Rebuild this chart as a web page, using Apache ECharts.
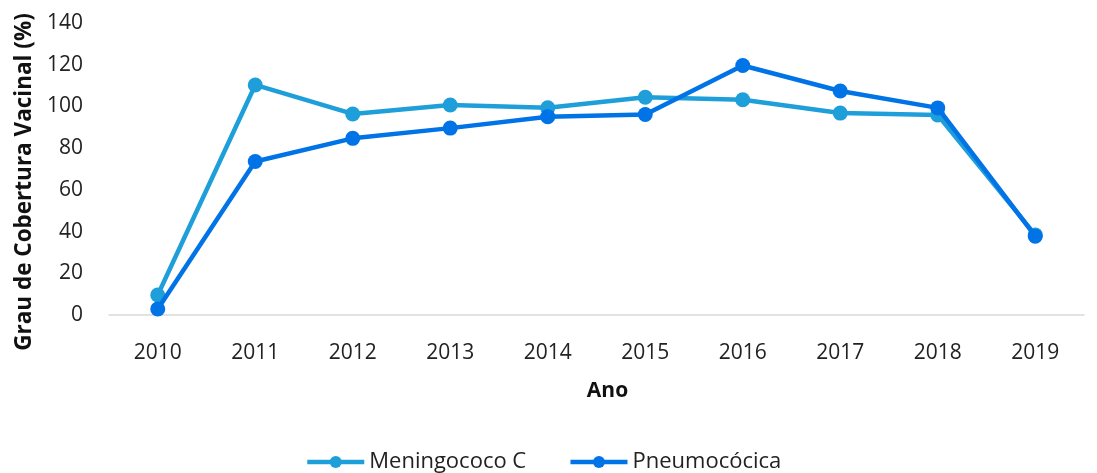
<!DOCTYPE html>
<html>
<head>
<meta charset="utf-8">
<script src="https://cdn.jsdelivr.net/npm/echarts@6/dist/echarts.min.js"></script>
<style>
  html, body { margin: 0; padding: 0; background: #fff; }
  #main { width: 1097px; height: 473px; }
</style>
</head>
<body>
<div id="main"></div>
<script>
var anos = ['2010', '2011', '2012', '2013', '2014', '2015', '2016', '2017', '2018', '2019']
var meningococo = [9.6, 110.3, 96.4, 100.7, 99.4, 104.4, 103.2, 96.8, 95.9, 38.4]
var pneumococica = [2.9, 73.6, 84.7, 89.6, 95.1, 96.1, 119.6, 107.4, 99.3, 37.8]

const myChart = echarts.init(document.getElementById('main'))
const fonte = "'Open Sans', 'Noto Sans', sans-serif"

const option = {
  animation: false,
  textStyle: { fontFamily: fonte },
  grid: { left: 109, right: 13, top: 23, bottom: 158 },
  legend: {
    top: 451,
    left: 305,
    padding: 0,
    itemWidth: 57,
    itemHeight: 15,
    itemGap: 42,
    itemTextGap: 4,
    lineStyle: { width: 4.5 },
    textStyle: { fontSize: 22, color: '#222', fontFamily: fonte },
    data: ['Meningococo C', 'Pneumocócica']
  },
  xAxis: {
    type: 'category',
    data: anos,
    name: 'Ano',
    nameLocation: 'middle',
    nameGap: 66,
    nameTextStyle: { fontSize: 21, fontWeight: 'bold', color: '#111', padding: [0, 0, 0, 22] },
    axisLine: { lineStyle: { color: '#d9d9d9', width: 1.5 } },
    axisTick: { show: false },
    axisLabel: { fontSize: 21, color: '#222', margin: 28 }
  },
  yAxis: {
    type: 'value',
    min: 0,
    max: 140,
    interval: 20,
    name: 'Grau de Cobertura Vacinal (%)',
    nameLocation: 'middle',
    nameGap: 70,
    nameTextStyle: { fontSize: 22.5, fontWeight: 'bold', color: '#111', padding: [0, 26, 0, 0] },
    axisLine: { show: false },
    axisTick: { show: false },
    splitLine: { show: false },
    axisLabel: { fontSize: 21, color: '#222', margin: 26 }
  },
  series: [
    {
      name: 'Meningococo C',
      type: 'line',
      data: meningococo,
      symbol: 'circle',
      symbolSize: 15,
      color: '#1f9fda',
      lineStyle: { width: 4.5 },
      z: 2
    },
    {
      name: 'Pneumocócica',
      type: 'line',
      data: pneumococica,
      symbol: 'circle',
      symbolSize: 15,
      color: '#0073e6',
      lineStyle: { width: 4.5 },
      z: 3
    }
  ]
}
myChart.setOption(option)
</script>
</body>
</html>
